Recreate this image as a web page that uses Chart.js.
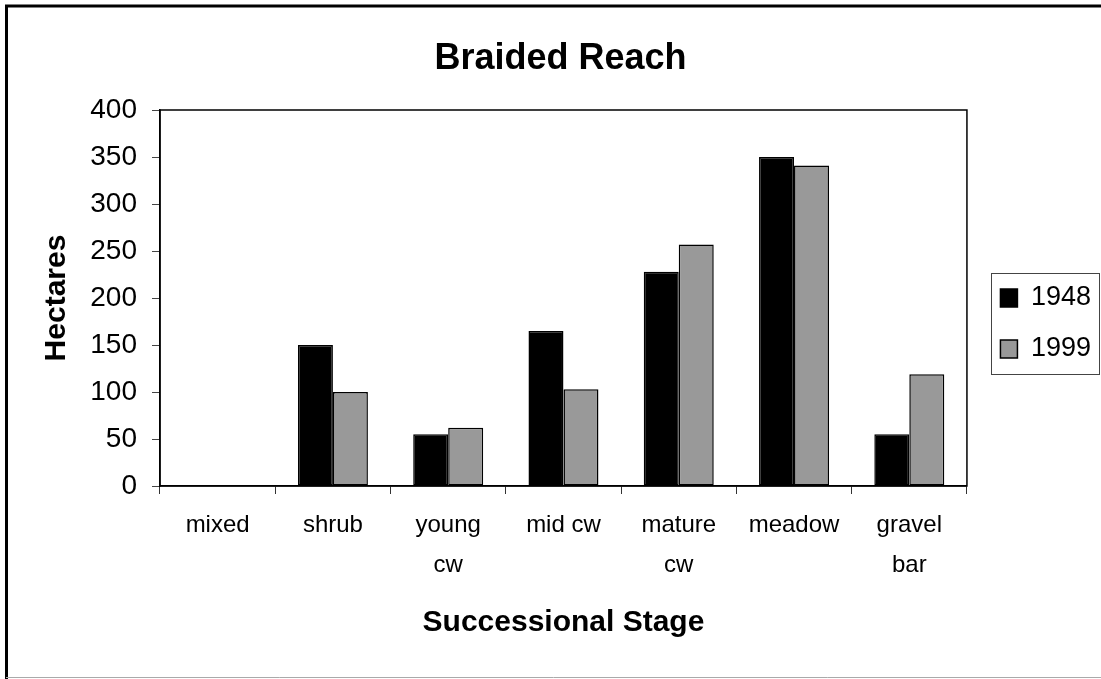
<!DOCTYPE html>
<html>
<head>
<meta charset="utf-8">
<title>Braided Reach</title>
<script src="https://cdn.jsdelivr.net/npm/chart.js@4/dist/chart.umd.min.js"></script>
<style>
  html, body { margin: 0; padding: 0; background: #fff; overflow: hidden; }
  #wrap { position: absolute; left: 0; top: 0; width: 1101px; height: 679px; }
</style>
</head>
<body>
<div id="wrap"><canvas id="chart"></canvas></div>
<script>
// data
const categories = ["mixed", "shrub", ["young", "cw"], "mid cw", ["mature", "cw"], "meadow", ["gravel", "bar"]];
const seriesNames = ["1948", "1999"];
const hectares1948 = [0, 150, 55, 165, 228, 350, 55];
const hectares1999 = [0, 100, 62, 103, 257, 341, 119];
const yTicks = [0, 50, 100, 150, 200, 250, 300, 350, 400];

const FONT = "'Liberation Sans', Arial, sans-serif";

// outer frame, plot frame and legend frame (Excel style)
const framePlugin = {
  id: "frames",
  beforeDraw(chart) {
    const ctx = chart.ctx;
    ctx.save();
    ctx.fillStyle = "#fff";
    ctx.fillRect(0, 0, chart.width, chart.height);
    ctx.strokeStyle = "#000";
    ctx.lineWidth = 3;
    ctx.beginPath();
    ctx.moveTo(6.5, chart.height);
    ctx.lineTo(6.5, 6);
    ctx.lineTo(chart.width, 6);
    ctx.stroke();
    ctx.strokeStyle = "#aaa";
    ctx.lineWidth = 1;
    ctx.beginPath();
    ctx.moveTo(6, chart.height - 1.5);
    ctx.lineTo(chart.width, chart.height - 1.5);
    ctx.stroke();
    ctx.restore();
  },
  afterDraw(chart) {
    const ctx = chart.ctx;
    const a = chart.chartArea;
    ctx.save();
    ctx.strokeStyle = "#000";
    ctx.lineWidth = 1.5;
    ctx.strokeRect(a.left, a.top, a.right - a.left, a.bottom - a.top);

    // legend box
    const boxes = chart.legend.legendHitBoxes;
    if (boxes && boxes.length) {
      const left = Math.min(...boxes.map(b => b.left)) - 9;
      const top = Math.min(...boxes.map(b => b.top)) - 11.5;
      const bottom = Math.max(...boxes.map(b => b.top + b.height)) + 11.5;
      ctx.strokeStyle = "#444";
      ctx.lineWidth = 1;
      ctx.strokeRect(Math.round(left) + 0.5, Math.round(top) + 0.5, 1099 - Math.round(left), Math.round(bottom - top));
    }
    ctx.restore();
  },
};

const data = {
  labels: categories,
  datasets: [
    {
      label: seriesNames[0],
      data: hectares1948,
      backgroundColor: "#000000",
      borderColor: "#000000",
      borderWidth: 1.5,
    },
    {
      label: seriesNames[1],
      data: hectares1999,
      backgroundColor: "#999999",
      borderColor: "#000000",
      borderWidth: 1.5,
    },
  ],
};

const config = {
  type: "bar",
  data,
  plugins: [framePlugin],
  options: {
    responsive: false,
    animation: false,
    devicePixelRatio: 1,
    layout: { padding: { left: 20, right: 0, top: 0, bottom: 32 } },
    datasets: {
      bar: { categoryPercentage: 0.607, barPercentage: 1.0, borderSkipped: false },
    },
    plugins: {
      title: {
        display: true,
        text: "Braided Reach",
        color: "#000",
        font: { family: FONT, size: 36, weight: "bold", lineHeight: 1.2 },
        padding: { top: 37.4, bottom: 29.4 },
      },
      legend: {
        position: "right",
        align: "center",
        labels: {
          color: "#000",
          font: { family: FONT, size: 27 },
          boxWidth: 17,
          boxHeight: 18,
          padding: 24,
        },
      },
      tooltip: { enabled: false },
    },
    scales: {
      x: {
        grid: {
          display: true,
          drawOnChartArea: false,
          drawTicks: true,
          tickLength: 8,
          color: "#333",
          offset: true,
        },
        border: { display: true, color: "#000", width: 1.5 },
        ticks: {
          color: "#000",
          font: { family: FONT, size: 24, lineHeight: 1.67 },
          padding: 11,
          maxRotation: 0,
          autoSkip: false,
        },
        title: {
          display: true,
          text: "Successional Stage",
          color: "#000",
          font: { family: FONT, size: 30, weight: "bold", lineHeight: 1.2 },
          padding: { top: 0, bottom: 6 },
        },
        afterFit(scale) {
          scale.height = 161;
        },
      },
      y: {
        min: 0,
        max: 400,
        afterBuildTicks(scale) {
          scale.ticks = yTicks.map(v => ({ value: v }));
        },
        grid: {
          display: true,
          drawOnChartArea: false,
          drawTicks: true,
          tickLength: 8,
          color: "#444",
        },
        border: { display: true, color: "#000", width: 1.5 },
        ticks: {
          color: "#000",
          font: { family: FONT, size: 28 },
          padding: 15,
        },
        title: {
          display: true,
          text: "Hectares",
          color: "#000",
          font: { family: FONT, size: 30, weight: "bold", lineHeight: 1.2 },
          padding: { top: 19, bottom: 0 },
        },
        afterFit(scale) {
          scale.width = 140;
        },
      },
      // empty spacer between the plot frame and the legend
      gap: {
        type: "linear",
        position: "right",
        display: true,
        grid: { display: false },
        border: { display: false },
        ticks: { display: false },
        afterFit(scale) {
          scale.width = 9.5;
        },
      },
    },
  },
};

window.addEventListener("DOMContentLoaded", function () {
  const canvas = document.getElementById("chart");
  canvas.width = 1101;
  canvas.height = 679;
  new Chart(canvas, config);
});
</script>
</body>
</html>
